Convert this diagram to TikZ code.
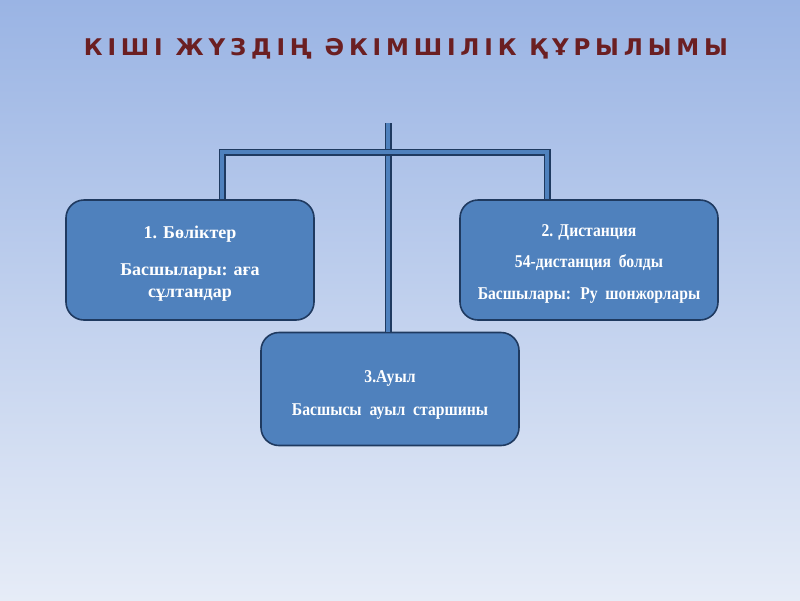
\documentclass[tikz,border=0pt]{standalone}
\usepackage{fontspec}
\setmainfont{Liberation Serif}
\newfontfamily\condfont[FakeStretch=0.87]{Liberation Serif}
\newfontfamily\titlefont[LetterSpace=21]{DejaVu Sans}
\usetikzlibrary{positioning}
\definecolor{bgtop}{HTML}{9AB4E4}
\definecolor{bgbot}{HTML}{E6ECF7}
\definecolor{boxfill}{HTML}{4F81BD}
\definecolor{boxline}{HTML}{1F3A60}
\definecolor{titlered}{HTML}{6B1F22}
\newcommand\tallstrut[1]{\rule{0pt}{#1}}
\tikzset{
  orgbox/.style={draw=boxline, line width=1.6pt, fill=boxfill, rounded corners=18pt,
    minimum width=248pt, minimum height=120pt, text=white, align=center,
    font=\fontsize{18}{22}\selectfont\bfseries, inner sep=0pt},
  condbox/.style={orgbox, font=\condfont\fontsize{18}{22}\selectfont\bfseries},
  link/.style={draw=boxline, line width=1.5pt, double=boxfill, double distance=4pt}
}
\begin{document}
\begin{tikzpicture}[x=1pt,y=-1pt]
  \shade[top color=bgtop, bottom color=bgbot] (0,0) rectangle (800,600);
  \useasboundingbox (0,0) rectangle (800,600);
  \node[text=titlered, font=\titlefont\fontsize{23}{26}\selectfont\bfseries] (title) at (406,49) {КІШІ ЖҮЗДІҢ ӘКІМШІЛІК ҚҰРЫЛЫМЫ};
  \node[orgbox] (b1) at (190,260) {\tallstrut{19pt}1. Бөліктер\\[15pt]Басшылары: аға\\сұлтандар};
  \node[condbox, minimum width=258pt] (b2) at (589,260) {\tallstrut{19pt}2. Дистанция\\[9pt]54-дистанция~ болды\\[10pt]Басшылары:~ Ру~ шонжорлары};
  \node[condbox, minimum width=258pt, minimum height=113pt] (b3) at (390,389) {\tallstrut{23pt}3.Ауыл\\[11pt]Басшысы~ ауыл~ старшины};
  \coordinate (top) at (388,123);
  \coordinate (hl) at (222,152);
  \coordinate (hr) at (547,152);
  \draw[link] (top) -- (top |- b3.north);
  \draw[link] (hl |- b1.north) -- (hl) -- (hr) -- (hr |- b2.north);
\end{tikzpicture}
\end{document}
